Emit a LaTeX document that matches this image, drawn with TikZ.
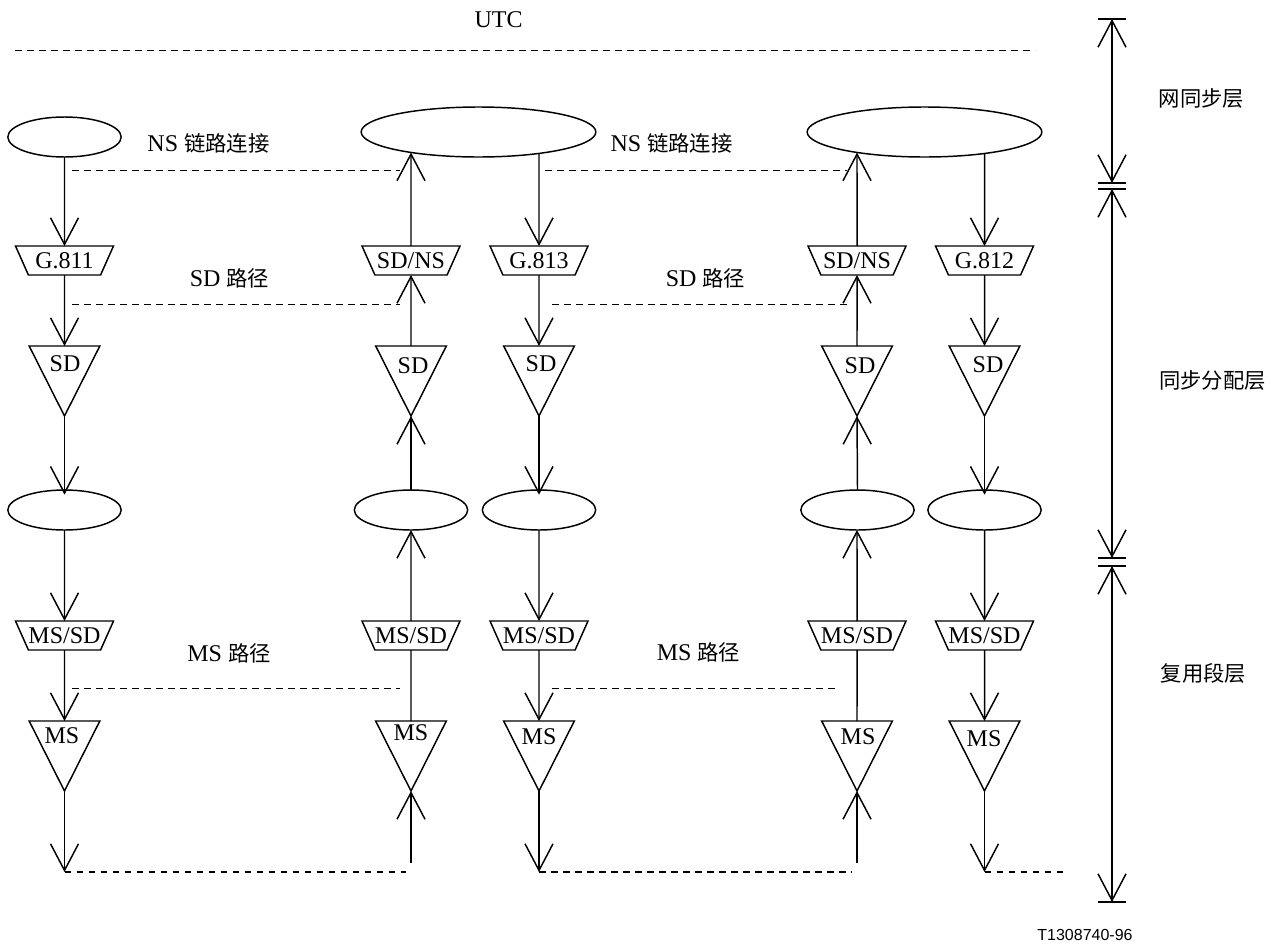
\documentclass[tikz,border=0pt]{standalone}
\usepackage{fontspec}
\setmainfont{Liberation Serif}
\newfontfamily\cjk{Noto Sans CJK SC}
\newfontfamily\tagfont{Liberation Sans}
\newcommand{\zh}[1]{{\cjk\fontsize{16}{18}\selectfont #1}}
\usetikzlibrary{arrows.meta,shapes.geometric}
\tikzset{
  every node/.style={inner sep=0pt,outer sep=0pt,font=\fontsize{18}{20}\selectfont},
  conn/.style={line width=1.1pt,-{Straight Barb[length=20pt,width=21pt]}},
  intoell/.style={conn,shorten >=-3.5pt},
  plainconn/.style={line width=1.1pt},
  dashconn/.style={line width=1.1pt,dash pattern=on 5pt off 4pt},
  smallell/.style={draw,line width=1.1pt,ellipse,minimum width=85pt,minimum height=30pt},
  bigell/.style={draw,line width=1.1pt,ellipse,minimum width=176pt,minimum height=37.5pt},
  funnel/.style={draw,line width=1.1pt,trapezium,shape border rotate=180,trapezium stretches body=true,
    trapezium left angle=66,trapezium right angle=66,minimum width=73.5pt,text height=17pt,text depth=4.75pt},
  tri/.style={draw,line width=1.1pt,isosceles triangle,shape border rotate=270,isosceles triangle stretches=true,
    minimum width=53pt,minimum height=52.5pt,anchor=lower side}
}
\begin{document}
\begin{tikzpicture}[x=0.75pt,y=0.75pt,yscale=-1,xscale=1]
    \useasboundingbox (0,0) rectangle (1276,946);
    % Top line
    \node (utc) at (498.5,20) {UTC};
    \coordinate (topL) at (15,50.5);
    \coordinate (topR) at (1035,50.5);
    \draw[dashconn] (topL) -- (topR);

    % Column A
    \node[smallell] (ellA1) at (64.5,137) {};
    \node[funnel] (fnA1) at (64.5,260.5) {G.811};
    \node[tri] (triA1) at (64.5,346) {};
    \node (sdA) at (65,364) {SD};
    \node[smallell] (ellA2) at (64.5,510) {};
    \node[funnel] (fnA2) at (64.5,635.5) {MS/SD};
    \node[tri] (triA2) at (64.5,721) {};
    \node (msA) at (62,736) {MS};
    \coordinate (endA) at (64.5,872);
    \draw[conn] (ellA1) -- (fnA1.north);
    \draw[conn] (fnA1.south) -- (triA1.lower side);
    \draw[intoell] (triA1.apex) -- (ellA2.north);
    \draw[conn] (ellA2) -- (fnA2.north);
    \draw[conn] (fnA2.south) -- (triA2.lower side);
    \draw[conn] (triA2.apex) -- (endA);

    % Big ellipses
    \node[bigell] (bigL) at (478.5,132) {};
    \node[bigell] (bigR) at (924.5,132) {};

    % Column B
    \node[funnel] (fnB1) at (411,260.5) {SD/NS};
    \node[tri] (triB1) at (411,346) {};
    \node (sdB) at (413,366) {SD};
    \node[smallell] (ellB2) at (411,510) {};
    \node[funnel] (fnB2) at (411,635.5) {MS/SD};
    \node[tri] (triB2) at (411,721) {};
    \node (msB) at (411,733) {MS};
    \coordinate (endB) at (411,863);
    \draw[conn] (fnB1.north) -- (fnB1 |- bigL.197);
    \draw[conn] (triB1.lower side) -- (fnB1.south);
    \draw[conn] (ellB2) -- (triB1.apex);
    \draw[conn] (fnB2.north) -- (ellB2.south);
    \draw[plainconn] (triB2.lower side) -- (fnB2.south);
    \draw[conn] (endB) -- (triB2.apex);

    % Column C
    \node[funnel] (fnC1) at (539,260.5) {G.813};
    \node[tri] (triC1) at (539,346) {};
    \node (sdC) at (541,364) {SD};
    \node[smallell] (ellC2) at (539,510) {};
    \node[funnel] (fnC2) at (539,635.5) {MS/SD};
    \node[tri] (triC2) at (539,721) {};
    \node (msC) at (539,737) {MS};
    \coordinate (endC) at (539,872);
    \draw[conn] (fnC1 |- bigL.341) -- (fnC1.north);
    \draw[conn] (fnC1.south) -- (triC1.lower side);
    \draw[intoell] (triC1.apex) -- (ellC2.north);
    \draw[conn] (ellC2.south) -- (fnC2.north);
    \draw[conn] (fnC2.south) -- (triC2.lower side);
    \draw[conn] (triC2.apex) -- (endC);

    % Column D
    \node[funnel] (fnD1) at (857,260.5) {SD/NS};
    \node[tri] (triD1) at (857,346) {};
    \node (sdD) at (860,366) {SD};
    \node[smallell] (ellD2) at (857.5,510) {};
    \node[funnel] (fnD2) at (857,635.5) {MS/SD};
    \node[tri] (triD2) at (857,721) {};
    \node (msD) at (858,737) {MS};
    \coordinate (endD) at (857,863);
    \draw[conn] (fnD1.north) -- (fnD1 |- bigR.197);
    \draw[conn] (triD1.lower side) -- (fnD1.south);
    \draw[conn] (ellD2 |- ellD2.north) -- (triD1.apex);
    \draw[conn] (fnD2.north) -- (fnD2 |- ellD2.south);
    \draw[plainconn] (triD2.lower side) -- (fnD2.south);
    \draw[conn] (endD) -- (triD2.apex);

    % Column E
    \node[funnel] (fnE1) at (984.5,260.5) {G.812};
    \node[tri] (triE1) at (984.5,346) {};
    \node (sdE) at (988,365) {SD};
    \node[smallell] (ellE2) at (984.5,510) {};
    \node[funnel] (fnE2) at (984.5,635.5) {MS/SD};
    \node[tri] (triE2) at (984.5,721) {};
    \node (msE) at (984,739) {MS};
    \coordinate (endE) at (984.5,872);
    \draw[conn] (fnE1 |- bigR.341) -- (fnE1.north);
    \draw[conn] (fnE1.south) -- (triE1.lower side);
    \draw[intoell] (triE1.apex) -- (ellE2.north);
    \draw[conn] (ellE2.south) -- (fnE2.north);
    \draw[conn] (fnE2.south) -- (triE2.lower side);
    \draw[conn] (triE2.apex) -- (endE);

    % Dashed lines
    \draw[dashconn] (72,170.5) -- (400,170.5);
    \draw[dashconn] (545,170.5) -- (847,170.5);
    \draw[dashconn] (72,304.5) -- (400,304.5);
    \draw[dashconn] (552,304.5) -- (847,304.5);
    \draw[dashconn] (72,688.5) -- (400,688.5);
    \draw[dashconn] (552,688.5) -- (838,688.5);
    \coordinate (dashA) at (406,872);
    \coordinate (dashC) at (852,872);
    \coordinate (dashE) at (1065,872);
    \draw[dashconn] (endA) -- (dashA);
    \draw[dashconn] (endC) -- (dashC);
    \draw[dashconn] (endE) -- (dashE);

    % Layer scale
    \coordinate (layA) at (1112,19);
    \coordinate (layB) at (1112,183);
    \coordinate (layC) at (1112,189);
    \coordinate (layD) at (1112,558);
    \coordinate (layE) at (1112,566);
    \coordinate (layF) at (1112,902);
    \draw[conn] (1112,100) -- (layA);
    \draw[conn] (1112,100) -- (layB);
    \draw[conn] (1112,370) -- (layC);
    \draw[conn] (1112,370) -- (layD);
    \draw[conn] (1112,730) -- (layE);
    \draw[conn] (1112,730) -- (layF);
    \draw[plainconn] (1098,19) -- (1126,19);
    \draw[plainconn] (1098,183) -- (1126,183);
    \draw[plainconn] (1098,189) -- (1126,189);
    \draw[plainconn] (1098,558) -- (1126,558);
    \draw[plainconn] (1098,566) -- (1126,566);
    \draw[plainconn] (1098,902) -- (1126,902);

    % Text Node
    \node (nsL) at (208.5,143) {NS \zh{链路连接}};
    \node (nsR) at (671.5,143) {NS \zh{链路连接}};
    \node (sdL) at (229.5,278) {SD \zh{路径}};
    \node (sdR) at (705.5,278) {SD \zh{路径}};
    \node (msL) at (229,653) {MS \zh{路径}};
    \node (msR) at (698.5,652) {MS \zh{路径}};
    \node (netlayer) at (1201.5,98) {\zh{网同步层}};
    \node (distlayer) at (1212.5,380) {\zh{同步分配层}};
    \node (muxlayer) at (1203.5,673) {\zh{复用段层}};
    \node[font=\tagfont\fontsize{12}{14}\selectfont] (figtag) at (1085,935) {T1308740-96};
\end{tikzpicture}
\end{document}
